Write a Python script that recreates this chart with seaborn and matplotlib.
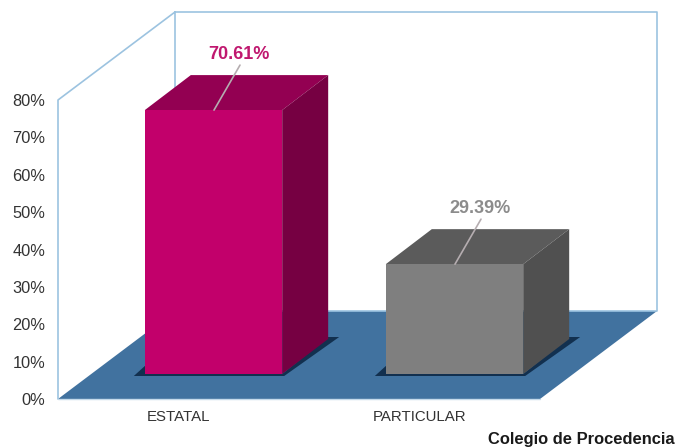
import matplotlib
matplotlib.use("Agg")
import matplotlib.pyplot as plt
from matplotlib.patches import Polygon
from matplotlib.transforms import Affine2D, IdentityTransform
import seaborn as sns

# Data
categories = ["ESTATAL", "PARTICULAR"]
values = [70.61, 29.39]
y_ticks = [0, 10, 20, 30, 40, 50, 60, 70, 80]
x_title = "Colegio de Procedencia"

# Colours of the faces: front, top, side, label
front_colors = ["#C2006B", "#7F7F7F"]
top_colors = ["#930052", "#5B5B5B"]
side_colors = ["#760042", "#505050"]
label_colors = ["#C0186F", "#8C8C8C"]

W, H = 677, 448
sns.set_theme(style="white")
plt.rcParams["font.family"] = ["Liberation Sans", "DejaVu Sans"]

fig = plt.figure(figsize=(W / 100, H / 100), dpi=100)
ax = fig.add_axes([58 / W, (H - 399) / H, 482 / W, 299 / H])

sns.barplot(x=categories, y=values, hue=categories, palette=front_colors, saturation=1,
            width=0.57, legend=False, ax=ax, zorder=5, linewidth=0)
bars = list(ax.patches)
ax.set_ylim(0, 80)
ax.set_xlim(-0.5, 1.5)
ax.set_yticks(y_ticks, [str(t) + "%" for t in y_ticks])
ax.tick_params(axis="y", length=0, pad=9, labelsize=11.8, labelcolor="#333333")
ax.tick_params(axis="x", length=0, pad=8, labelsize=10.8, labelcolor="#333333")
sns.despine(ax=ax, left=True, bottom=True)
ax.patch.set_alpha(0)


def add_poly(points, color, z):
    ax.add_patch(Polygon(points, closed=True, transform=IdentityTransform(), clip_on=False,
                         facecolor=color, edgecolor="none", linewidth=0, zorder=z))


# Box of the chart: walls and floor, in pixels from the axes corners
(x0, y0), (x1, y1) = ax.transData.transform([(-0.5, 0), (1.5, 80)])
box_dx, box_dy = 117, 88
wall = "#9CC3E0"
add_poly([(x0, y0), (x0 + box_dx, y0 + box_dy), (x1 + box_dx, y0 + box_dy), (x1, y0)], "#41729F", 1)
ax.plot([x0, x0, x0 + box_dx, x1 + box_dx, x1 + box_dx, x0 + box_dx, x0 + box_dx],
        [y0, y1, y1 + box_dy, y1 + box_dy, y0 + box_dy, y0 + box_dy, y1 + box_dy],
        color=wall, lw=1.2, transform=IdentityTransform(), clip_on=False, zorder=2)
ax.plot([x0, x1], [y0, y0], color="#C5DAEA", lw=1, transform=IdentityTransform(),
        clip_on=False, zorder=2)

# Shift the front faces onto the floor and add the depth faces
shift_x, shift_y = 35, 25
depth_x, depth_y = 46, 35
for i, bar in enumerate(bars):
    (l, b), (r, t) = ax.transData.transform([(bar.get_x(), 0),
                                             (bar.get_x() + bar.get_width(), values[i])])
    bar.set_transform(bar.get_data_transform() + Affine2D().translate(shift_x, shift_y))
    bar.set_clip_on(False)
    l, r, b, t = l + shift_x, r + shift_x, b + shift_y, t + shift_y
    # shadow on the floor
    add_poly([(l - 11, b - 2), (r + 2, b - 2), (r + depth_x + 11, b + depth_y + 2),
              (r + depth_x, b + depth_y + 2), (r, b), (l, b + 8)], "#12304F", 3)
    add_poly([(l, t), (l + depth_x, t + depth_y), (r + depth_x, t + depth_y), (r, t)], top_colors[i], 4)
    add_poly([(r, b), (r + depth_x, b + depth_y), (r + depth_x, t + depth_y), (r, t)], side_colors[i], 4)
    # value label with its leader line
    cx = (l + r) / 2 + 0.5
    ax.annotate("", xy=(cx, t), xycoords="figure pixels", xytext=(cx + 26, t + 45),
                textcoords="figure pixels", zorder=6, annotation_clip=False,
                arrowprops=dict(arrowstyle="-", color="#B5ADB0", lw=1.2, shrinkA=0, shrinkB=0))
    ax.annotate(f"{values[i]:.2f}%", xy=(cx + 25, t + 56), xycoords="figure pixels",
                ha="center", va="center", fontsize=13, fontweight="bold",
                color=label_colors[i], zorder=6, annotation_clip=False)

fig.text(675 / W, (H - 439) / H, x_title, ha="right", va="center", fontsize=11.9,
         fontweight="bold", color="#1A1A1A")

plt.savefig("out.png", dpi=100)
plt.close()
